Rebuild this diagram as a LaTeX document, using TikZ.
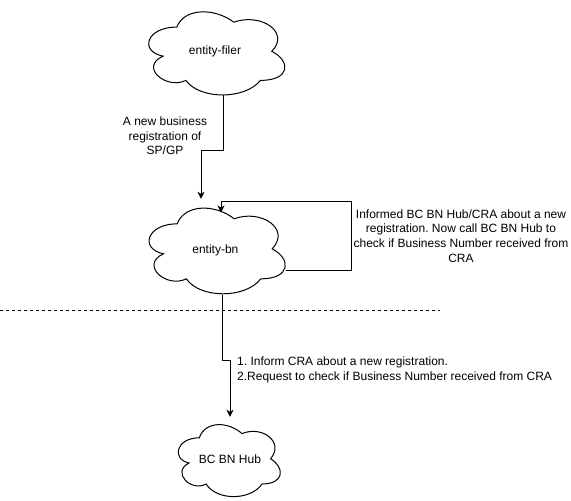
\documentclass[tikz,border=0pt]{standalone}
\usepackage{fontspec}
\setmainfont{Liberation Sans}
\usetikzlibrary{arrows.meta}
\frenchspacing
\newcommand\mycloud[3]{%
  \draw[cloudline, shift={(#1.north west)}, xscale=#2, yscale=#3]
    (0.25,0.25) .. controls (0.05,0.25) and (0,0.5) .. (0.16,0.55)
    .. controls (0,0.66) and (0.18,0.9) .. (0.31,0.8)
    .. controls (0.4,1) and (0.7,1) .. (0.8,0.8)
    .. controls (1,0.8) and (1,0.6) .. (0.875,0.5)
    .. controls (1,0.3) and (0.8,0.1) .. (0.625,0.2)
    .. controls (0.5,0.05) and (0.3,0.05) .. (0.25,0.25) -- cycle;}
\begin{document}
\begin{tikzpicture}[x=1pt,y=-1pt,
  every node/.style={font=\frenchspacing\fontsize{12pt}{14.6pt}\selectfont, text=black},
  cloudbox/.style={draw=none, inner sep=0pt, rectangle},
  cloudline/.style={draw=black, line width=1pt, fill=white},
  lbl/.style={inner sep=0pt},
  arr/.style={draw=black, line width=1pt, -{Stealth[length=7pt,width=7pt,inset=2pt]}},
  sep/.style={draw=black, line width=1pt, dash pattern=on 3pt off 3pt}]
\fill[white] (0,0) rectangle (571,501);
\useasboundingbox (0,0) rectangle (571,501);

% clouds
\node[cloudbox, minimum width=152pt, minimum height=97pt] (filer) at (215,51.5) {};
\node[cloudbox, minimum width=152pt, minimum height=100pt] (bn) at (215.4,249) {};
\node[cloudbox, minimum width=114pt, minimum height=84pt] (hub) at (228,459) {};
\mycloud{filer}{152}{97}
\mycloud{bn}{152}{100}
\mycloud{hub}{114}{84}
\node[lbl] (filertxt) at (filer.center) {entity-filer};
\node[lbl] (bntxt) at ([yshift=-1pt]bn.center) {entity-bn};
\node[lbl] (hubtxt) at ([xshift=2pt]hub.center) {BC BN Hub};

% attach points on the cloud outlines
\coordinate (fout) at (223,95);
\coordinate (bnright) at (285.5,270);
\coordinate (bntop) at (221,212.5);
\coordinate (bnbottom) at (222.7,295);

% connectors
\draw[arr] (fout) |- (201,150) -- (bn.north -| 201,0);
\draw[arr] (bnright) -- (351,270) |- (221,201) -- (bntop);
\draw[arr] (bnbottom) |- (230,360) -- (hub.north -| 230,0);

% separator
\coordinate (sepl) at (0,310);
\coordinate (sepr) at (440,310);
\draw[sep] (sepl) -- (sepr);

% labels
\node[lbl, align=center] (lab1) at (165,136) {A new business\\registration of\\SP/GP};
\node[lbl, align=center] (lab2) at (461,236) {Informed BC BN Hub/CRA about a new\\registration. Now call BC BN Hub to\\check if Business Number received from\\CRA};
\node[lbl, align=left, anchor=west] (lab3) at (237,370) {1. Inform CRA about a new registration.\\2.Request to check if Business Number received from CRA};
\end{tikzpicture}
\end{document}
